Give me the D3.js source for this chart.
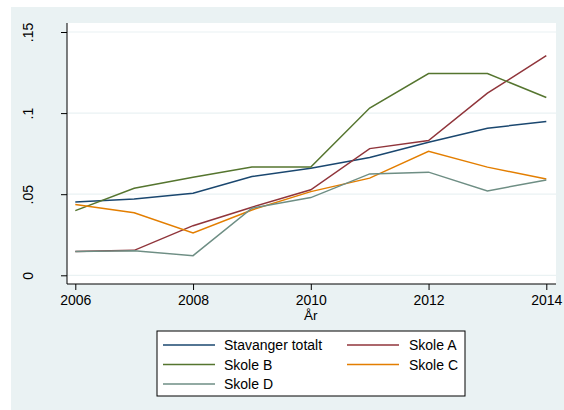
<!DOCTYPE html>
<html>
<head>
  <meta charset="utf-8">
  <script src="https://d3js.org/d3.v7.min.js"></script>
  <style>
    body { margin: 0; background: #fff; }
    text { font-family: "Liberation Sans", Arial, sans-serif; }
  </style>
</head>
<body>
<script>
// years on the x axis
var years = [2006, 2007, 2008, 2009, 2010, 2011, 2012, 2013, 2014];

// share per year
var stavanger = [0.0452, 0.0471, 0.0506, 0.0609, 0.0660, 0.0726, 0.0820, 0.0907, 0.0948];
var skoleA    = [0.0146, 0.0154, 0.0306, 0.0420, 0.0527, 0.0781, 0.0831, 0.1123, 0.1354];
var skoleB    = [0.0399, 0.0537, 0.0605, 0.0667, 0.0667, 0.1031, 0.1244, 0.1244, 0.1096];
var skoleC    = [0.0436, 0.0386, 0.0261, 0.0403, 0.0516, 0.0599, 0.0765, 0.0667, 0.0594];
var skoleD    = [0.0146, 0.0152, 0.0121, 0.0414, 0.0479, 0.0625, 0.0636, 0.0520, 0.0588];

var seriesNames = ["Stavanger totalt", "Skole A", "Skole B", "Skole C", "Skole D"];
var seriesColors = ["#1a476f", "#90353b", "#55752f", "#e37e00", "#6e8e84"];

var yTicks = [0, 0.05, 0.1, 0.15];
var yTickLabels = ["0", ".05", ".1", ".15"];
var xTicks = [2006, 2008, 2010, 2012, 2014];

var W = 564, H = 410;
var svg = d3.select("body").append("svg")
    .attr("width", W).attr("height", H);

// stata style light background
svg.append("rect")
    .attr("x", 11).attr("y", 7)
    .attr("width", W - 11).attr("height", H - 7)
    .attr("fill", "#eaf2f3");

var plot = { left: 67, right: 556, top: 23, bottom: 284 };

svg.append("rect")
    .attr("x", plot.left).attr("y", plot.top)
    .attr("width", plot.right - plot.left).attr("height", plot.bottom - plot.top)
    .attr("fill", "#fff");

var x = d3.scaleLinear().domain([2006, 2014]).range([75.3, 546.3]);
var y = d3.scaleLinear().domain([0, 0.15]).range([275.3, 32]);

// gridlines
svg.append("g")
  .selectAll("line")
  .data(yTicks)
  .enter().append("line")
    .attr("x1", plot.left).attr("x2", plot.right)
    .attr("y1", function(d) { return y(d); })
    .attr("y2", function(d) { return y(d); })
    .attr("stroke", "#eaf2f3")
    .attr("stroke-width", 1.2);

// y axis
var yAxis = d3.axisLeft(y)
    .tickValues(yTicks)
    .tickSize(6)
    .tickFormat(function(d, i) { return yTickLabels[i]; });

var gy = svg.append("g")
    .attr("transform", "translate(" + plot.left + ",0)")
    .call(yAxis);
gy.select(".domain").attr("d", "M0," + plot.top + "V" + plot.bottom).attr("stroke", "#000");
gy.selectAll(".tick line").attr("stroke", "#000");
gy.selectAll(".tick text")
    .attr("font-size", 14)
    .attr("fill", "#000")
    .attr("transform", "rotate(-90)")
    .attr("x", 0).attr("y", -34)
    .attr("dy", 0)
    .attr("text-anchor", "middle");

// x axis
var xAxis = d3.axisBottom(x)
    .tickValues(xTicks)
    .tickSize(6)
    .tickFormat(d3.format("d"));

var gx = svg.append("g")
    .attr("transform", "translate(0," + plot.bottom + ")")
    .call(xAxis);
gx.select(".domain").attr("d", "M" + plot.left + ",0H" + plot.right).attr("stroke", "#000");
gx.selectAll(".tick line").attr("stroke", "#000");
gx.selectAll(".tick text")
    .attr("font-size", 14)
    .attr("fill", "#000")
    .attr("y", 21.3)
    .attr("dy", 0);

svg.append("text")
    .attr("x", x(2010)).attr("y", 320)
    .attr("text-anchor", "middle")
    .attr("font-size", 13.5)
    .text("År");

// lines
var allSeries = [stavanger, skoleA, skoleB, skoleC, skoleD];
var line = d3.line()
    .x(function(d, i) { return x(years[i]); })
    .y(function(d) { return y(d); });

svg.append("g")
  .selectAll("path")
  .data(allSeries)
  .enter().append("path")
    .attr("d", line)
    .attr("fill", "none")
    .attr("stroke", function(d, i) { return seriesColors[i]; })
    .attr("stroke-width", 1.5);

// legend
var legend = svg.append("g");
legend.append("rect")
    .attr("x", 157).attr("y", 331)
    .attr("width", 308).attr("height", 65)
    .attr("fill", "#fff")
    .attr("stroke", "#000")
    .attr("stroke-width", 1);

var colX = [163, 347];
var textX = [224, 409];
var rowY = [345, 364.5, 384];

seriesNames.forEach(function(name, i) {
  var c = i % 2, r = Math.floor(i / 2);
  legend.append("line")
      .attr("x1", colX[c]).attr("x2", colX[c] + 52)
      .attr("y1", rowY[r]).attr("y2", rowY[r])
      .attr("stroke", seriesColors[i])
      .attr("stroke-width", 1.5);
  legend.append("text")
      .attr("x", textX[c]).attr("y", rowY[r] + 5.3)
      .attr("font-size", 14)
      .text(name);
});
</script>
</body>
</html>
